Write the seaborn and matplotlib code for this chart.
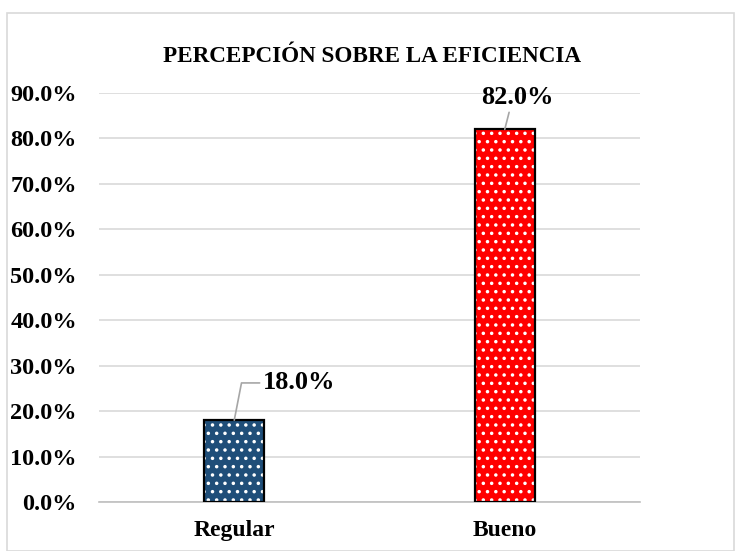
import matplotlib
matplotlib.use("Agg")
import matplotlib.pyplot as plt
import seaborn as sns
import pandas as pd
from matplotlib.patches import Rectangle
from matplotlib.ticker import FuncFormatter, MultipleLocator

categories = ["Regular", "Bueno"]
values = [0.18, 0.82]
colors = ["#1F4E79", "#FF0000"]
title = "PERCEPCIÓN SOBRE LA EFICIENCIA"

sns.set_theme(style="white")
plt.rcParams["font.family"] = ["Liberation Serif", "DejaVu Serif"]
plt.rcParams["hatch.linewidth"] = 1.3
plt.rcParams["text.color"] = "black"
plt.rcParams["xtick.color"] = "black"
plt.rcParams["ytick.color"] = "black"

df = pd.DataFrame({"cat": categories, "val": values})

fig = plt.figure(figsize=(7.35, 5.51), dpi=100)
fig.patches.append(Rectangle((7.5 / 735, 0), 1 - 7.5 / 735 - 0.001, 1 - 12.5 / 551,
                             transform=fig.transFigure, fill=False,
                             edgecolor="#d9d9d9", linewidth=1.2))
ax = fig.add_axes([99 / 735, 1 - 502 / 551, 541 / 735, (502 - 93) / 551])

sns.barplot(data=df, x="cat", y="val", hue="cat", palette=colors, width=0.222,
            saturation=1, legend=False, ax=ax, zorder=3)

for p in list(ax.patches):
    p.set_hatch("..")
    p.set_edgecolor("white")
    p.set_linewidth(0)
    ax.add_patch(Rectangle(p.get_xy(), p.get_width(), p.get_height(),
                           fill=False, edgecolor="black", linewidth=1.6, zorder=4))

ax.set_ylim(0, 0.9)
ax.yaxis.set_major_locator(MultipleLocator(0.1))
ax.yaxis.set_major_formatter(FuncFormatter(lambda v, _: f"{v * 100:.1f}%"))
ax.grid(axis="y", color="#d9d9d9", linewidth=1.2, zorder=0)
ax.set_axisbelow(True)
for s in ["left", "right", "top"]:
    ax.spines[s].set_visible(False)
ax.spines["bottom"].set_color("#bfbfbf")
ax.spines["bottom"].set_linewidth(1.2)
ax.tick_params(axis="both", length=0)
ax.tick_params(axis="y", labelsize=17.5, pad=16)
ax.tick_params(axis="x", labelsize=17, pad=13)
for lab in ax.get_yticklabels() + ax.get_xticklabels():
    lab.set_fontweight("bold")
ax.set_xlabel("")
ax.set_ylabel("")

# data labels with leader lines
label_pos = [(0.24, 0.262), (1.046, 0.89)]
arrow_styles = [
    dict(arrowstyle="-", color="#a6a6a6", lw=1.2, shrinkA=0, shrinkB=0,
         relpos=(0, 0.5), connectionstyle="angle,angleA=0,angleB=79,rad=0"),
    dict(arrowstyle="-", color="#a6a6a6", lw=1.2, shrinkA=0, shrinkB=0,
         relpos=(0.4, 0)),
]
for i, (v, (tx, ty), ap) in enumerate(zip(values, label_pos, arrow_styles)):
    ax.annotate(f"{v * 100:.1f}%", xy=(i, v), xytext=(tx, ty),
                ha="center", va="center", fontsize=19, fontweight="bold",
                arrowprops=ap, zorder=5)

fig.text(372 / 735, 1 - 57 / 551, title, ha="center", va="center",
         fontsize=16.7, fontweight="bold")

fig.savefig("out.png", dpi=100)
